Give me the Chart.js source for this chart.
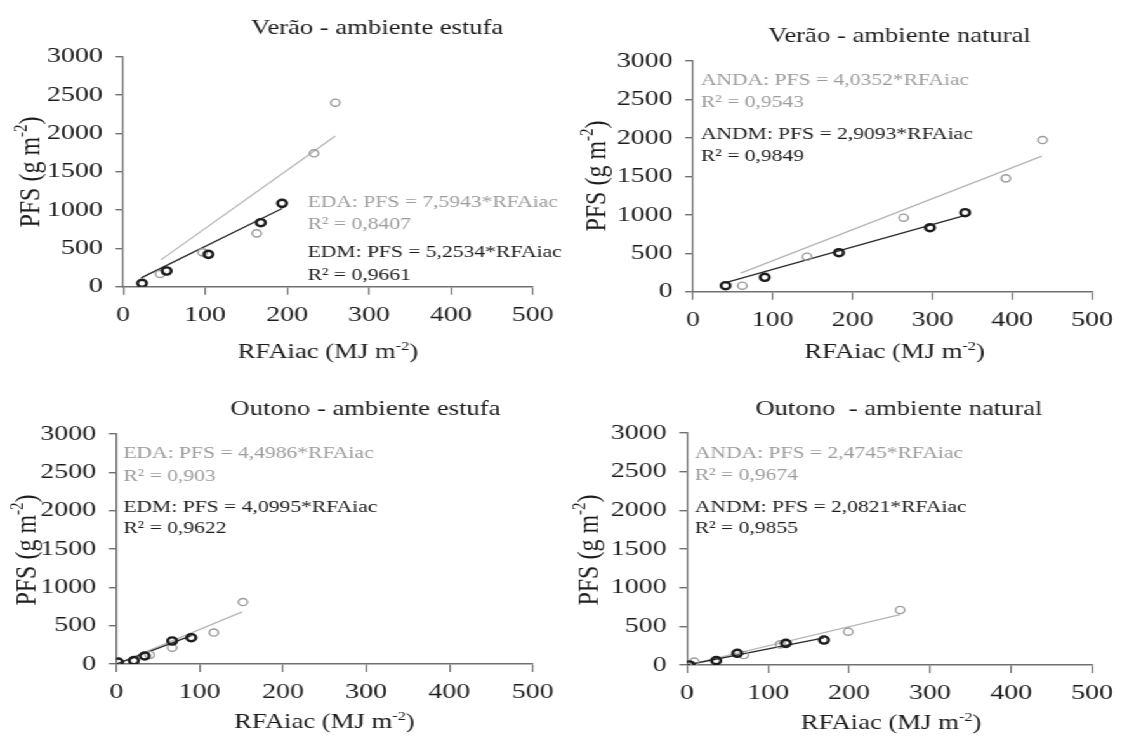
<!DOCTYPE html>
<html>
<head>
<meta charset="utf-8">
<script src="https://cdn.jsdelivr.net/npm/chart.js@4.4.0/dist/chart.umd.min.js"></script>
<style>
  html, body { margin: 0; padding: 0; background: #fff; }
  /* the source figure is stretched sideways, so the whole drawing is too */
  #wrap { position: relative; width: 884px; height: 740px; transform: scaleX(1.2692); transform-origin: 0 0; }
  #wrap canvas { position: absolute; }
</style>
</head>
<body>
<div id="wrap">
  <canvas id="c1" width="460" height="370" style="left:0;top:0"></canvas>
  <canvas id="c2" width="443" height="370" style="left:441px;top:0"></canvas>
  <canvas id="c3" width="460" height="370" style="left:0;top:370px"></canvas>
  <canvas id="c4" width="443" height="370" style="left:441px;top:370px"></canvas>
</div>
<script>
// tick labels
var xTicks = [0, 100, 200, 300, 400, 500];
var yTicks = [0, 500, 1000, 1500, 2000, 2500, 3000];

var titles = ['Verão - ambiente estufa', 'Verão - ambiente natural', 'Outono - ambiente estufa', 'Outono  - ambiente natural'];

// Verão - ambiente estufa
var veraoEstufaEDA_x = [45, 97, 163, 233, 259];
var veraoEstufaEDA_y = [166, 448, 696, 1740, 2400];
var veraoEstufaEDM_x = [23, 53, 104, 168, 194];
var veraoEstufaEDM_y = [44, 205, 422, 835, 1087];
var veraoEstufaEDA_line = [[46, 350], [259, 1965]];
var veraoEstufaEDM_line = [[22, 115], [194, 1020]];
var veraoEstufaNotes = ['EDA: PFS = 7,5943*RFAiac', 'R² = 0,8407', 'EDM: PFS = 5,2534*RFAiac', 'R² = 0,9661'];

// Verão - ambiente natural
var veraoNaturalANDA_x = [62, 143, 264, 392, 438];
var veraoNaturalANDA_y = [78, 455, 962, 1474, 1972];
var veraoNaturalANDM_x = [41, 90, 183, 297, 341];
var veraoNaturalANDM_y = [78, 187, 507, 832, 1027];
var veraoNaturalANDA_line = [[60, 242], [437, 1763]];
var veraoNaturalANDM_line = [[40, 116], [341, 992]];
var veraoNaturalNotes = ['ANDA: PFS = 4,0352*RFAiac', 'R² = 0,9543', 'ANDM: PFS = 2,9093*RFAiac', 'R² = 0,9849'];

// Outono - ambiente estufa
var outonoEstufaEDA_x = [40, 67, 117, 152];
var outonoEstufaEDA_y = [118, 213, 410, 808];
var outonoEstufaEDM_x = [2, 21, 34, 67, 90];
var outonoEstufaEDM_y = [25, 44, 105, 300, 343];
var outonoEstufaEDA_line = [[0, 0], [151, 680]];
var outonoEstufaEDM_line = [[0, 0], [90, 369]];
var outonoEstufaNotes = ['EDA: PFS = 4,4986*RFAiac', 'R² = 0,903', 'EDM: PFS = 4,0995*RFAiac', 'R² = 0,9622'];

// Outono - ambiente natural
var outonoNaturalANDA_x = [9, 70, 115, 199, 263];
var outonoNaturalANDA_y = [43, 129, 267, 431, 711];
var outonoNaturalANDM_x = [3, 36, 62, 122, 169];
var outonoNaturalANDM_y = [0, 56, 151, 280, 323];
var outonoNaturalANDA_line = [[0, 0], [263, 651]];
var outonoNaturalANDM_line = [[0, 0], [169, 352]];
var outonoNaturalNotes = ['ANDA: PFS = 2,4745*RFAiac', 'R² = 0,9674', 'ANDM: PFS = 2,0821*RFAiac', 'R² = 0,9855'];

var FONT = "'Liberation Serif', 'Times New Roman', serif";
var GRAY = '#9c9c9c';
var DARK = '#1c1c1c';

Chart.defaults.font.family = FONT;
Chart.defaults.animation = false;

function pts(xs, ys) {
  return xs.map(function (x, i) { return { x: x, y: ys[i] }; });
}

function seg(pair) {
  return pair.map(function (p) { return { x: p[0], y: p[1] }; });
}

// text with a raised "-2" part
function drawParts(ctx, parts, x, y, size, align) {
  var w = 0;
  parts.forEach(function (p) {
    ctx.font = (p[1] ? Math.round(size * 0.62) : size) + 'px ' + FONT;
    w += ctx.measureText(p[0]).width;
  });
  var cx = align === 'center' ? x - w / 2 : x;
  ctx.textAlign = 'left';
  ctx.textBaseline = 'alphabetic';
  parts.forEach(function (p) {
    ctx.font = (p[1] ? Math.round(size * 0.62) : size) + 'px ' + FONT;
    ctx.fillText(p[0], cx, p[1] ? y - size * 0.4 : y);
    cx += ctx.measureText(p[0]).width;
  });
}

var panelText = {
  id: 'panelText',
  afterDraw: function (chart, args, o) {
    var ctx = chart.ctx;
    ctx.save();
    ctx.fillStyle = DARK;
    ctx.font = '21px ' + FONT;
    ctx.textAlign = 'center';
    ctx.textBaseline = 'alphabetic';
    ctx.fillText(o.title, o.titlePos[0], o.titlePos[1]);

    drawParts(ctx, [['RFAiac (MJ m', false], ['-2', true], [')', false]], o.xTitlePos[0], o.xTitlePos[1], 21, 'center');

    ctx.save();
    ctx.translate(o.yTitlePos[0], o.yTitlePos[1]);
    ctx.rotate(-Math.PI / 2);
    drawParts(ctx, [['PFS (g m', false], ['-2', true], [')', false]], 0, 8, 24, 'center');
    ctx.restore();

    ctx.font = '17px ' + FONT;
    ctx.textAlign = 'left';
    o.notes.forEach(function (t, i) {
      ctx.fillStyle = i < 2 ? GRAY : DARK;
      ctx.fillText(t, o.notesX, o.notesY[i]);
    });
    ctx.restore();
  }
};

function makePanel(id, cfg) {
  var canvas = document.getElementById(id);
  var W = canvas.width, H = canvas.height;
  var a = cfg.area;
  var yW = 60, xH = 40;

  return new Chart(canvas, {
    type: 'scatter',
    data: {
      datasets: [
        {
          data: pts(cfg.black[0], cfg.black[1]),
          borderColor: DARK, backgroundColor: 'rgba(255,255,255,0)',
          borderWidth: 2.4, pointRadius: 3.6, showLine: false, order: 0
        },
        {
          data: pts(cfg.gray[0], cfg.gray[1]),
          borderColor: GRAY, backgroundColor: 'rgba(255,255,255,0)',
          borderWidth: 1.4, pointRadius: 3.6, showLine: false, order: 1
        },
        {
          data: seg(cfg.blackLine),
          borderColor: '#2a2a2a', borderWidth: 1.3, pointRadius: 0, showLine: true, order: 2
        },
        {
          data: seg(cfg.grayLine),
          borderColor: '#b4b4b4', borderWidth: 1.2, pointRadius: 0, showLine: true, order: 3
        }
      ]
    },
    options: {
      responsive: false,
      events: [],
      layout: {
        padding: { left: a.left - yW, right: W - a.right, top: a.top, bottom: H - a.bottom - xH }
      },
      plugins: {
        legend: { display: false },
        tooltip: { enabled: false },
        panelText: cfg.text
      },
      scales: {
        x: {
          type: 'linear', min: xTicks[0], max: xTicks[xTicks.length - 1],
          afterFit: function (s) { s.height = xH; },
          afterBuildTicks: function (s) { s.ticks = xTicks.map(function (v) { return { value: v }; }); },
          grid: { drawOnChartArea: false, drawTicks: true, tickLength: 8, color: '#707070', lineWidth: 1.2 },
          border: { display: true, color: '#707070', width: 1.5 },
          ticks: { color: DARK, font: { size: 22 }, padding: 7, maxRotation: 0,
            callback: function (v) { return String(v); } }
        },
        y: {
          type: 'linear', min: yTicks[0], max: yTicks[yTicks.length - 1],
          afterFit: function (s) { s.width = yW; },
          afterBuildTicks: function (s) { s.ticks = yTicks.map(function (v) { return { value: v }; }); },
          grid: { drawOnChartArea: false, drawTicks: true, tickLength: 6, color: '#707070', lineWidth: 1.4 },
          border: { display: true, color: '#707070', width: 1.3 },
          ticks: { color: DARK, font: { size: 22 }, padding: 10,
            callback: function (v) { return String(v); } }
        }
      }
    },
    plugins: [panelText]
  });
}

var charts = [];

charts.push(makePanel('c1', {
  area: { left: 97.1, right: 419.7, top: 56.7, bottom: 286.7 },
  gray: [veraoEstufaEDA_x, veraoEstufaEDA_y],
  black: [veraoEstufaEDM_x, veraoEstufaEDM_y],
  grayLine: veraoEstufaEDA_line,
  blackLine: veraoEstufaEDM_line,
  text: {
    title: titles[0], titlePos: [297.2, 34.3], yTitlePos: [22.6, 172], xTitlePos: [258.4, 358],
    notes: veraoEstufaNotes, notesX: 242.4, notesY: [207, 229, 257, 280]
  }
}));

charts.push(makePanel('c2', {
  area: { left: 104.9, right: 422.8, top: 61, bottom: 291.7 },
  gray: [veraoNaturalANDA_x, veraoNaturalANDA_y],
  black: [veraoNaturalANDM_x, veraoNaturalANDM_y],
  grayLine: veraoNaturalANDA_line,
  blackLine: veraoNaturalANDM_line,
  text: {
    title: titles[1], titlePos: [267.7, 41.7], yTitlePos: [27.5, 176], xTitlePos: [263.9, 358],
    notes: veraoNaturalNotes, notesX: 111.2, notesY: [85, 107, 139, 161]
  }
}));

charts.push(makePanel('c3', {
  area: { left: 91.7, right: 419.7, top: 64, bottom: 294 },
  gray: [outonoEstufaEDA_x, outonoEstufaEDA_y],
  black: [outonoEstufaEDM_x, outonoEstufaEDM_y],
  grayLine: outonoEstufaEDA_line,
  blackLine: outonoEstufaEDM_line,
  text: {
    title: titles[2], titlePos: [287.9, 45], yTitlePos: [19.7, 180], xTitlePos: [255.7, 358],
    notes: outonoEstufaNotes, notesX: 97.2, notesY: [88.3, 110.7, 141.7, 163.3]
  }
}));

charts.push(makePanel('c4', {
  area: { left: 100.3, right: 422, top: 63, bottom: 295 },
  gray: [outonoNaturalANDA_x, outonoNaturalANDA_y],
  black: [outonoNaturalANDM_x, outonoNaturalANDM_y],
  grayLine: outonoNaturalANDA_line,
  blackLine: outonoNaturalANDM_line,
  text: {
    title: titles[3], titlePos: [267.3, 45], yTitlePos: [21.8, 180], xTitlePos: [261.2, 359],
    notes: outonoNaturalNotes, notesX: 106.4, notesY: [88.3, 110, 141.7, 163.3]
  }
}));

// redraw once the serif face is surely in use
if (document.fonts && document.fonts.load) {
  document.fonts.load('21px "Liberation Serif"').then(function () {
    charts.forEach(function (c) { c.update(); });
  });
}
</script>
</body>
</html>
